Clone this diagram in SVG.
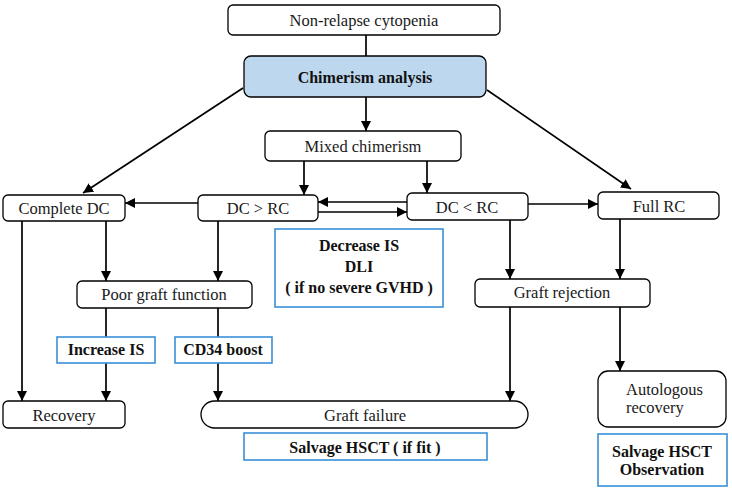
<svg xmlns="http://www.w3.org/2000/svg" width="732" height="492" viewBox="0 0 732 492">
<style>
.n{fill:#fff;stroke:#000;stroke-width:1.3}
.b{fill:#fff;stroke:#3a8fd8;stroke-width:1.6}
.t{font-family:"Liberation Serif","Times New Roman",serif;font-size:16.5px;fill:#1a1a1a;text-anchor:middle}
.bt{font-family:"Liberation Serif","Times New Roman",serif;font-size:16px;font-weight:bold;fill:#111;text-anchor:middle}
.c{fill:none;stroke:#000;stroke-width:1.7}
</style>
<defs>
<marker id="ah" viewBox="0 0 10 10" refX="10" refY="5" markerWidth="10" markerHeight="10" markerUnits="userSpaceOnUse" orient="auto">
<path d="M0,0 L10,5 L0,10 z" fill="#000"/>
</marker>
</defs>
<rect width="732" height="492" fill="#fff"/>
<g id="connectors">
<line class="c" x1="366" y1="35" x2="366" y2="56"/>
<line class="c" x1="366" y1="97" x2="366" y2="131" marker-end="url(#ah)"/>
<line class="c" x1="243" y1="88" x2="83" y2="193" marker-end="url(#ah)"/>
<line class="c" x1="487" y1="90" x2="631" y2="189" marker-end="url(#ah)"/>
<line class="c" x1="304" y1="161" x2="304" y2="195" marker-end="url(#ah)"/>
<line class="c" x1="427" y1="161" x2="427" y2="193" marker-end="url(#ah)"/>
<line class="c" x1="198" y1="203" x2="125" y2="203" marker-end="url(#ah)"/>
<line class="c" x1="407" y1="202" x2="318" y2="202" marker-end="url(#ah)"/>
<line class="c" x1="318" y1="212" x2="407" y2="212" marker-end="url(#ah)"/>
<line class="c" x1="528" y1="204" x2="598" y2="204" marker-end="url(#ah)"/>
<line class="c" x1="22" y1="221" x2="22" y2="401" marker-end="url(#ah)"/>
<line class="c" x1="106" y1="221" x2="106" y2="281" marker-end="url(#ah)"/>
<line class="c" x1="218" y1="221" x2="218" y2="281" marker-end="url(#ah)"/>
<line class="c" x1="106" y1="308" x2="106" y2="337"/>
<line class="c" x1="218" y1="308" x2="218" y2="337"/>
<line class="c" x1="106" y1="363" x2="106" y2="401" marker-end="url(#ah)"/>
<line class="c" x1="218" y1="363" x2="218" y2="401" marker-end="url(#ah)"/>
<line class="c" x1="510" y1="220" x2="510" y2="279" marker-end="url(#ah)"/>
<line class="c" x1="620" y1="219" x2="620" y2="279" marker-end="url(#ah)"/>
<line class="c" x1="510" y1="307" x2="510" y2="401" marker-end="url(#ah)"/>
<line class="c" x1="620" y1="307" x2="620" y2="371" marker-end="url(#ah)"/>
</g>
<g id="non-relapse">
<rect class="n" x="228" y="5" width="272" height="30" rx="5"/>
<text class="t" x="364" y="26">Non-relapse cytopenia</text>
</g>
<g id="chimerism">
<rect x="244" y="56" width="242" height="41" rx="7" fill="#bdd7ee" stroke="#000" stroke-width="1.3"/>
<text class="bt" x="365" y="83">Chimerism analysis</text>
</g>
<g id="mixed">
<rect class="n" x="265" y="131" width="196" height="30" rx="5"/>
<text class="t" x="363" y="152">Mixed chimerism</text>
</g>
<g id="complete-dc">
<rect class="n" x="3" y="195" width="122" height="26" rx="5"/>
<text class="t" x="64" y="214">Complete DC</text>
</g>
<g id="dc-gt-rc">
<rect class="n" x="198" y="195" width="120" height="26" rx="5"/>
<text class="t" x="258" y="214">DC &gt; RC</text>
</g>
<g id="dc-lt-rc">
<rect class="n" x="407" y="193" width="121" height="27" rx="5"/>
<text class="t" x="467" y="213">DC &lt; RC</text>
</g>
<g id="full-rc">
<rect class="n" x="598" y="192" width="121" height="27" rx="5"/>
<text class="t" x="659" y="212">Full RC</text>
</g>
<g id="decrease-is">
<rect class="b" x="275" y="229" width="168" height="78"/>
<text class="bt" x="359" y="251">Decrease IS</text>
<text class="bt" x="359" y="272">DLI</text>
<text class="bt" x="359" y="293">( if no severe GVHD )</text>
</g>
<g id="poor-graft">
<rect class="n" x="77" y="281" width="175" height="27" rx="5"/>
<text class="t" x="164" y="300">Poor graft function</text>
</g>
<g id="graft-rejection">
<rect class="n" x="475" y="279" width="175" height="28" rx="5"/>
<text class="t" x="562" y="298">Graft rejection</text>
</g>
<g id="increase-is">
<rect class="b" x="57" y="337" width="98" height="26"/>
<text class="bt" x="106" y="355">Increase IS</text>
</g>
<g id="cd34">
<rect class="b" x="175" y="337" width="97" height="26"/>
<text class="bt" x="223" y="355">CD34 boost</text>
</g>
<g id="recovery">
<rect class="n" x="3" y="401" width="122" height="27" rx="5"/>
<text class="t" x="64" y="421">Recovery</text>
</g>
<g id="graft-failure">
<rect class="n" x="201" y="401" width="327" height="27" rx="13.5"/>
<text class="t" x="365" y="421">Graft failure</text>
</g>
<g id="autologous">
<rect class="n" x="598" y="371" width="128" height="56" rx="10"/>
<text class="t" x="626" y="395" style="text-anchor:start">Autologous</text>
<text class="t" x="626" y="413" style="text-anchor:start">recovery</text>
</g>
<g id="salvage-fit">
<rect class="b" x="244" y="433" width="243" height="27"/>
<text class="bt" x="365" y="453">Salvage HSCT ( if fit )</text>
</g>
<g id="salvage-obs">
<rect class="b" x="598" y="434" width="129" height="52"/>
<text class="bt" x="662" y="457">Salvage HSCT</text>
<text class="bt" x="662" y="475">Observation</text>
</g>
</svg>
